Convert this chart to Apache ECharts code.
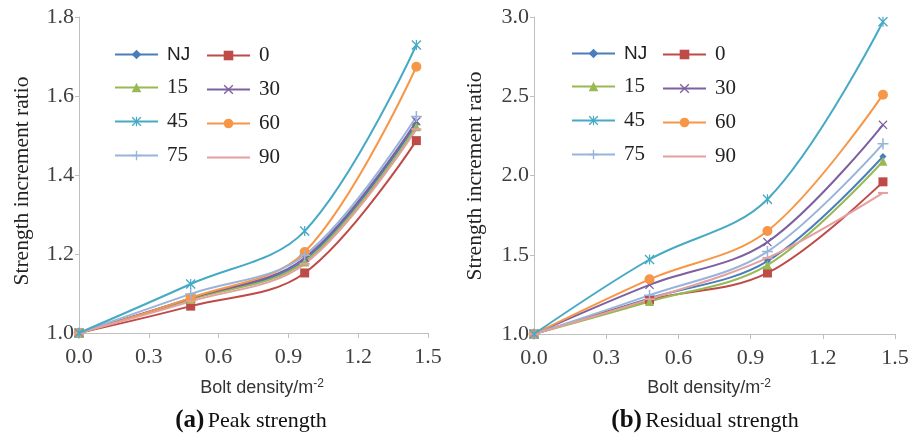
<!DOCTYPE html>
<html><head><meta charset="utf-8">
<script src="https://cdn.jsdelivr.net/npm/echarts@6/dist/echarts.min.js"></script>
<style>html,body{margin:0;padding:0;background:#fff}#c{width:917px;height:438px}</style>
</head><body><div id="c"></div>
<script>
const names = ['NJ','0','15','30','45','60','75','90'];
const density = [0, 0.48, 0.97, 1.45];
const peak = {
  'NJ':[1.0,1.087,1.185,1.53],
  '0': [1.0,1.068,1.152,1.487],
  '15':[1.0,1.085,1.18,1.522],
  '30':[1.0,1.088,1.19,1.536],
  '45':[1.0,1.124,1.258,1.729],
  '60':[1.0,1.089,1.205,1.674],
  '75':[1.0,1.099,1.197,1.548],
  '90':[1.0,1.08,1.175,1.516]
};
const residual = {
  'NJ':[1.0,1.225,1.46,2.12],
  '0': [1.0,1.215,1.385,1.96],
  '15':[1.0,1.205,1.435,2.09],
  '30':[1.0,1.31,1.58,2.32],
  '45':[1.0,1.47,1.85,2.97],
  '60':[1.0,1.345,1.65,2.51],
  '75':[1.0,1.245,1.52,2.2],
  '90':[1.0,1.22,1.48,1.89]
};
const peakTicks = {min:1.0, max:1.8, interval:0.2};
const resTicks = {min:1.0, max:3.0, interval:0.5};
const xTicks = {min:0, max:1.5, interval:0.3};
const xTitle = ['Bolt density/m', '-2'];
const yTitle = 'Strength increment ratio';
const captions = [['(a)','Peak strength'],['(b)','Residual strength']];

const colors = {'NJ':'#4A7EBB','0':'#BE4B48','15':'#98B954','30':'#7D60A0','45':'#46AAC5','60':'#F79646','75':'#98B4DA','90':'#E3A09E'};
const symbols = {
  'NJ':'diamond','0':'rect','15':'triangle',
  '30':'path://M0,1L1,0L5,4L9,0L10,1L6,5L10,9L9,10L5,6L1,10L0,9L4,5Z',
  '45':'path://M0,1L1,0L4.4,3.4L4.4,0L5.6,0L5.6,3.4L9,0L10,1L6,5L10,9L9,10L5.6,6.6L5.6,10L4.4,10L4.4,6.6L1,10L0,9L4,5Z',
  '60':'circle',
  '75':'path://M4.3,0H5.7V4.3H10V5.7H5.7V10H4.3V5.7H0V4.3H4.3Z',
  '90':'path://M0,0H10V2H0Z'
};
const sizes = {'NJ':7,'0':9,'15':9,'30':9,'45':10,'60':10,'75':11,'90':[10,2]};

const serif = '"Liberation Serif","Times New Roman",serif';
const sans = '"Liberation Sans",Arial,sans-serif';

function mkSeries(data, idx){
  return names.map(n => ({
    name:n, type:'line', xAxisIndex:idx, yAxisIndex:idx,
    smooth:0.35, symbol:symbols[n], symbolSize:sizes[n],
    lineStyle:{width:2,color:colors[n]}, itemStyle:{color:colors[n]},
    data: density.map((x,i)=>[x,data[n][i]]), z: n==='45'?5:2
  }));
}
function xAx(idx){
  return {type:'value', gridIndex:idx, min:xTicks.min, max:xTicks.max, interval:xTicks.interval,
    axisLine:{lineStyle:{color:'#BFBFBF',width:1}}, axisTick:{show:true,length:5,lineStyle:{color:'#BFBFBF'}},
    splitLine:{show:false},
    axisLabel:{color:'#404040',fontFamily:serif,fontSize:22,margin:13,formatter:v=>v.toFixed(1)}
  };
}
function yAx(idx,t){
  return {type:'value', gridIndex:idx, min:t.min, max:t.max, interval:t.interval,
    axisLine:{show:true,lineStyle:{color:'#BFBFBF',width:1}}, axisTick:{show:true,length:4,lineStyle:{color:'#BFBFBF'}},
    splitLine:{show:false},
    axisLabel:{color:'#404040',fontFamily:serif,fontSize:22,margin:5,formatter:v=>v.toFixed(1)}
  };
}
function legend(left, top, data){
  return {orient:'vertical', left:left, top:top, itemWidth:43, itemHeight:12, itemGap:13,
    selectedMode:false,
    data:data.map(n => n==='90' ? {name:n, itemStyle:{opacity:0}} : {name:n}),
    formatter: n => n==='NJ' ? '{s|NJ}' : '{n|'+n+'}',
    textStyle:{padding:[0,0,0,4],rich:{s:{fontFamily:sans,fontSize:19,color:'#222'},n:{fontFamily:serif,fontSize:21,color:'#222'}}}
  };
}
function xName(x){
  return {type:'text', x:x, y:388, style:{text:'{m|'+xTitle[0]+'}{s|'+xTitle[1]+'}', align:'center', verticalAlign:'middle',
    rich:{m:{fontFamily:sans,fontSize:18,fill:'#333'},s:{fontFamily:sans,fontSize:12,fill:'#333',verticalAlign:'top',padding:[0,0,8,0]}}}};
}
function yName(x,y){
  return {type:'text', x:x, y:y, rotation:Math.PI/2, style:{text:yTitle, align:'center', verticalAlign:'middle',
    fontFamily:serif, fontSize:21.5, fill:'#222'}};
}
function caption(x,c){
  return {type:'text', x:x, y:421, style:{text:'{b|'+c[0]+'} {r|'+c[1]+'}', align:'center', verticalAlign:'middle',
    rich:{b:{fontFamily:serif,fontSize:25,fontWeight:'bold',fill:'#111'},r:{fontFamily:serif,fontSize:22,fill:'#111'}}}};
}
const chart = echarts.init(document.getElementById('c'), null, {renderer:'canvas'});
chart.setOption({
  animation:false,
  backgroundColor:'#fff',
  grid:[{left:79, top:17, width:349, height:316},{left:534, top:17, width:361, height:317}],
  xAxis:[xAx(0),xAx(1)],
  yAxis:[yAx(0,peakTicks),yAx(1,resTicks)],
  legend:[legend(109,40,['NJ','15','45','75']),legend(201,40,['0','30','60','90']),
          legend(566,39,['NJ','15','45','75']),legend(657,39,['0','30','60','90'])],
  series:[...mkSeries(peak,0),...mkSeries(residual,1)],
  graphic:[
    xName(262), xName(709),
    yName(22,181), yName(475,176),
    caption(251,captions[0]), caption(705,captions[1])
  ]
});
</script></body></html>
